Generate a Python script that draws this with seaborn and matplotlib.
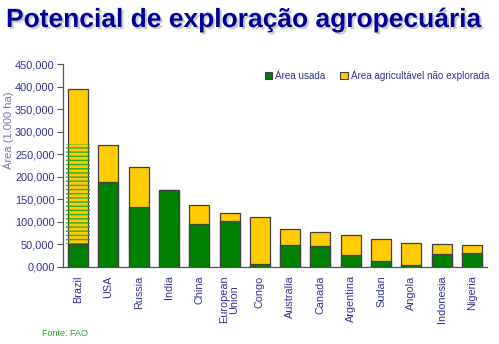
import matplotlib
matplotlib.use("Agg")
import matplotlib.pyplot as plt
import matplotlib.patheffects as pe
from matplotlib.patches import Patch
import seaborn as sns
import numpy as np
import pandas as pd

countries = ["Brazil", "USA", "Russia", "India", "China", "European\nUnion", "Congo",
             "Australia", "Canada", "Argentina", "Sudan", "Angola", "Indonesia", "Nigeria"]
used_area = [50000, 188000, 134000, 171000, 96000, 102000, 7000,
             48000, 46000, 27000, 12500, 3500, 29500, 31700]
total_area = [395000, 270000, 221000, 171000, 138000, 119000, 111000,
              84000, 77000, 72000, 63000, 54000, 50000, 48000]
# hatched band on Brazil's bar (from top of used area up to this value)
brazil_hatch_top = 272000
yticks = [0, 50000, 100000, 150000, 200000, 250000, 300000, 350000, 400000, 450000]
ytick_labels = ["0,000", "50,000", "100,000", "150,000", "200,000", "250,000",
                "300,000", "350,000", "400,000", "450,000"]
legend_labels = ["Área usada", "Área agricultável não explorada"]

sns.set_theme(style="white")
plt.rcParams["font.family"] = ["Liberation Sans", "DejaVu Sans"]

GREEN = "#008000"
YELLOW = "#FFCC00"
EDGE = "#404040"
TXT = "#333399"

df = pd.DataFrame({"country": countries, "used": used_area, "total": total_area})

W, H = 499, 344
fig = plt.figure(figsize=(W / 100, H / 100), dpi=100)
ax = fig.add_axes([63 / W, 1 - 267 / H, (487 - 63) / W, (267 - 64) / H])

sns.barplot(data=df, x="country", y="total", color=YELLOW, saturation=1,
            width=0.66, edgecolor=EDGE, linewidth=0.9, ax=ax, zorder=2)
sns.barplot(data=df, x="country", y="used", color=GREEN, saturation=1,
            width=0.66, edgecolor=EDGE, linewidth=0.9, ax=ax, zorder=3)

# hatch band on Brazil
hb = pd.DataFrame({"country": [countries[0]], "h": [brazil_hatch_top - used_area[0]],
                   "b": [used_area[0]]})
ax.bar(hb["country"], hb["h"], bottom=hb["b"], width=0.8, facecolor="none",
       edgecolor="#33AA22", linewidth=0, hatch="----", zorder=4)

ax.set_xlim(-0.5, len(countries) - 0.5)
ax.set_ylim(0, 450000)
ax.set_yticks(yticks)
ax.set_yticklabels(ytick_labels, color=TXT, fontsize=7.9)
ax.set_xticks(range(len(countries)))
ax.set_xticklabels(countries, rotation=90, color=TXT, fontsize=7.8,
                   va="top", ha="center", linespacing=1.0)
ax.set_xticks(np.arange(-0.5, len(countries), 1.0), minor=True)
ax.tick_params(axis="x", which="major", length=0, pad=6)
ax.tick_params(axis="x", which="minor", length=4, width=0.8, color="#555555", direction="out")
ax.tick_params(axis="y", length=4, width=0.8, color="#555555", direction="out", pad=2, left=True)
ax.set_xlabel("")
ax.set_ylabel("")
for s in ["top", "right"]:
    ax.spines[s].set_visible(False)
for s in ["left", "bottom"]:
    ax.spines[s].set_color("#555555")
    ax.spines[s].set_linewidth(0.9)

fig.text(8 / W, 1 - 130 / H, "Área (1.000 ha)", rotation=90, color="#7777AA",
         fontsize=8.0, ha="center", va="center")

# legend
handles = [Patch(facecolor=GREEN, edgecolor=EDGE, linewidth=0.8),
           Patch(facecolor=YELLOW, edgecolor=EDGE, linewidth=0.8)]
fig.legend(handles, legend_labels, loc="center left", bbox_to_anchor=(265 / W, 1 - 75 / H),
           ncol=2, frameon=False, fontsize=7.1, labelcolor=TXT, handlelength=0.75,
           handleheight=0.75, handletextpad=0.3, columnspacing=1.5, borderpad=0,
           borderaxespad=0)

fig.text(6 / W, 1 - 27 / H, "Potencial de exploração agropecuária", fontsize=19,
         fontweight="bold", color="#000099", ha="left", va="baseline",
         path_effects=[pe.SimplePatchShadow(offset=(1.5, -1.5), shadow_rgbFace="#999999", alpha=0.5),
                       pe.Normal()])

fig.text(42 / W, 1 - 333 / H, "Fonte: FAO", fontsize=6.5, color="#22AA22",
         ha="left", va="center")

fig.savefig("out.png", dpi=100)
